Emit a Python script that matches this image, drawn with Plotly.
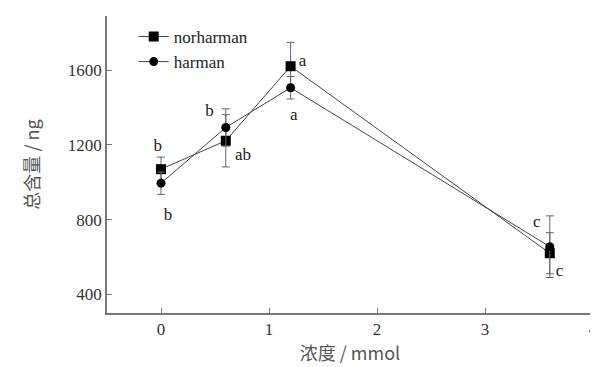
import plotly.graph_objects as go

x_vals = [0, 0.6, 1.2, 3.6]
norharman = [1070, 1222, 1621, 620]
norharman_err = [65, 140, 128, 110]
harman = [995, 1293, 1506, 655]
harman_err = [60, 100, 60, 165]

label_x = [-0.03, 0.065, 0.45, 0.76, 1.31, 1.23, 3.48, 3.69]
label_y = [1188, 820, 1376, 1142, 1645, 1355, 783, 523]
label_txt = ["b", "b", "b", "ab", "a", "a", "c", "c"]

serif = "Liberation Serif, Times New Roman, serif"
cjk = "Noto Sans CJK SC"

fig = go.Figure()
fig.add_trace(go.Scatter(
    x=x_vals, y=norharman, name="norharman", mode="lines+markers",
    line=dict(color="#444", width=1),
    marker=dict(symbol="square", size=10, color="black"),
    error_y=dict(type="data", array=norharman_err, color="#666", thickness=1, width=4),
))
fig.add_trace(go.Scatter(
    x=x_vals, y=harman, name="harman", mode="lines+markers",
    line=dict(color="#444", width=1),
    marker=dict(symbol="circle", size=9, color="black"),
    error_y=dict(type="data", array=harman_err, color="#666", thickness=1, width=4),
))
fig.add_trace(go.Scatter(
    x=label_x, y=label_y, text=label_txt, mode="text", showlegend=False,
    textfont=dict(family=serif, size=17, color="#222"),
))

# page body adds an 8px offset; compensate so the plot area lands where the reference has it
fig.update_layout(
    width=590, height=359,
    margin=dict(l=99, r=5, t=8, b=54, autoexpand=False),
    paper_bgcolor="white", plot_bgcolor="white",
    font=dict(family=serif, size=16, color="#333"),
    legend=dict(x=0.055, y=0.99, xanchor="left", yanchor="top",
                bgcolor="rgba(0,0,0,0)", font=dict(family=serif, size=17, color="#222"),
                tracegroupgap=0, itemwidth=30),
    xaxis=dict(range=[-0.5, 4.0], tickvals=[0, 1, 2, 3, 4], showgrid=False, zeroline=False,
               showline=True, linecolor="#777", linewidth=1.5, ticks="inside", ticklen=5,
               tickcolor="#777", tickfont=dict(family=serif, size=17, color="#333"),
               automargin=False,
               title=dict(text="浓度 / mmol", font=dict(family=cjk, size=18, color="#555"), standoff=2)),
    yaxis=dict(range=[300, 1890], tickvals=[400, 800, 1200, 1600], showgrid=False, zeroline=False,
               showline=True, linecolor="#777", linewidth=1.5, ticks="inside", ticklen=5,
               tickcolor="#777", tickfont=dict(family=serif, size=17, color="#333"),
               automargin=False,
               title=dict(text="总含量 / ng", font=dict(family=cjk, size=18, color="#555"), standoff=24)),
)

fig.write_html("out.html")
